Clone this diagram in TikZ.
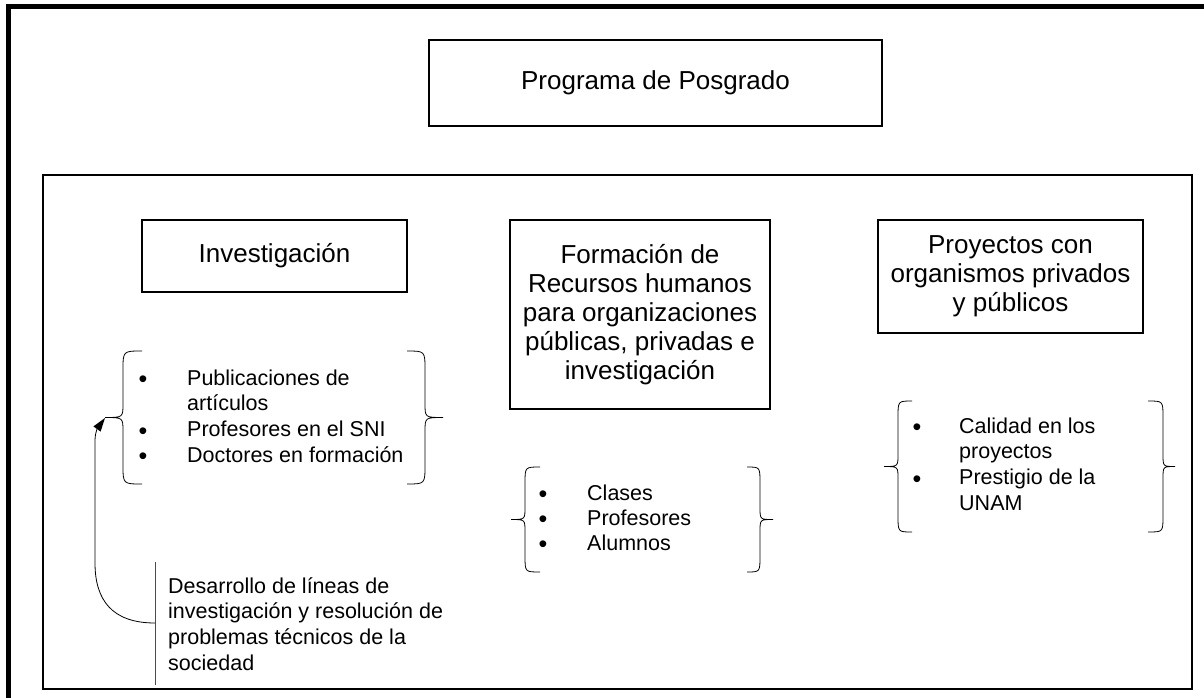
\documentclass[tikz,border=0pt]{standalone}
\usepackage{fontspec}
\setmainfont{Liberation Sans}
\usepackage{tikz}
\newcommand{\vineta}{\raisebox{-2.8pt}{\fontsize{25}{25}\selectfont\textbullet}}

\begin{document}
\begin{tikzpicture}[x=1pt,y=-1pt]
	\tikzstyle{every node}+=[inner sep=0pt]
	\tikzstyle{caja}=[draw, black, line width=1.2pt, align=center, font=\fontsize{26}{29}\selectfont]
	\tikzstyle{lista}=[anchor=base west, font=\fontsize{21.5}{25.7}\selectfont]
	\tikzstyle{llave}=[black, line width=0.8pt]
	\useasboundingbox (0,0) rectangle (1204,698);
	\draw [black, line width=4.5pt] (1204,6.5) -- (8.5,6.5) -- (8.5,698);
	\draw [black, line width=1.5pt] (43,175) rectangle (1192,689);
	\node [caja, minimum width=453pt, minimum height=86pt] (programa) at (655.5,83) {Programa de Posgrado};
	\node [caja, minimum width=265pt, minimum height=72pt] (investigacion) at (274.5,256) {Investigación};
	\node [caja, minimum width=260pt, minimum height=189pt] (formacion) at (640,314.5) {Formación de\\Recursos humanos\\para organizaciones\\públicas, privadas e\\investigación};
	\node [caja, minimum width=265pt, minimum height=113pt] (proyectos) at (1010.5,276.5) {Proyectos con\\organismos privados\\y públicos};
	\node [lista] (listainv) at (138.5,385) {\begin{tabular}[t]{@{}p{48.5pt}@{}l@{}}\vineta & Publicaciones de\\ & artículos\\ \vineta & Profesores en el SNI\\ \vineta & Doctores en formación\end{tabular}};
	\draw [llave] (142,351) .. controls (123,351) .. (123,370) -- (123,403.5) .. controls (123,417.5) .. (105,417.5) .. controls (123,417.5) .. (123,431.5) -- (123,465) .. controls (123,484) .. (142,484);
	\draw [llave] (407,351) .. controls (425,351) .. (425,370) -- (425,403.5) .. controls (425,417.5) .. (443,417.5) .. controls (425,417.5) .. (425,431.5) -- (425,465) .. controls (425,484) .. (407,484);
	\node [lista, font=\fontsize{21.5}{25}\selectfont] (listaform) at (538.5,500) {\begin{tabular}[t]{@{}p{48.5pt}@{}l@{}}\vineta & Clases\\ \vineta & Profesores\\ \vineta & Alumnos\end{tabular}};
	\draw [llave] (540,467) .. controls (525,467) .. (525,483) -- (525,507.5) .. controls (525,519.5) .. (511,519.5) .. controls (525,519.5) .. (525,531.5) -- (525,556) .. controls (525,572) .. (540,572);
	\draw [llave] (747,467) .. controls (760,467) .. (760,483) -- (760,507.5) .. controls (760,519.5) .. (773,519.5) .. controls (760,519.5) .. (760,531.5) -- (760,556) .. controls (760,572) .. (747,572);
	\node [lista] (listaproy) at (912.5,433) {\begin{tabular}[t]{@{}p{46.5pt}@{}l@{}}\vineta & Calidad en los\\ & proyectos\\ \vineta & Prestigio de la\\ & UNAM\end{tabular}};
	\draw [llave] (912,401) .. controls (898,401) .. (898,417) -- (898,454.5) .. controls (898,466.5) .. (884,466.5) .. controls (898,466.5) .. (898,478.5) -- (898,516) .. controls (898,532) .. (912,532);
	\draw [llave] (1148,401) .. controls (1163,401) .. (1163,417) -- (1163,454.5) .. controls (1163,466.5) .. (1175,466.5) .. controls (1163,466.5) .. (1163,478.5) -- (1163,516) .. controls (1163,532) .. (1148,532);
	\node [lista] (desarrollo) at (168,593) {\begin{tabular}[t]{@{}l@{}}Desarrollo de líneas de\\investigación y resolución de\\problemas técnicos de la\\sociedad\end{tabular}};
	\draw [black!70, line width=0.8pt] (155,562) -- (155,685);
	\coordinate (origen) at (155,623);
	\coordinate (puntainv) at (105,418);
	\draw [black, line width=0.8pt] (origen) .. controls (112,623) and (95,600) .. (95,563) -- (95,445) .. controls (95,436) .. (97,429);
	\fill [black] (puntainv) -- (100.6,431.6) -- (93.4,426.4) -- cycle;
\end{tikzpicture}
\end{document}
